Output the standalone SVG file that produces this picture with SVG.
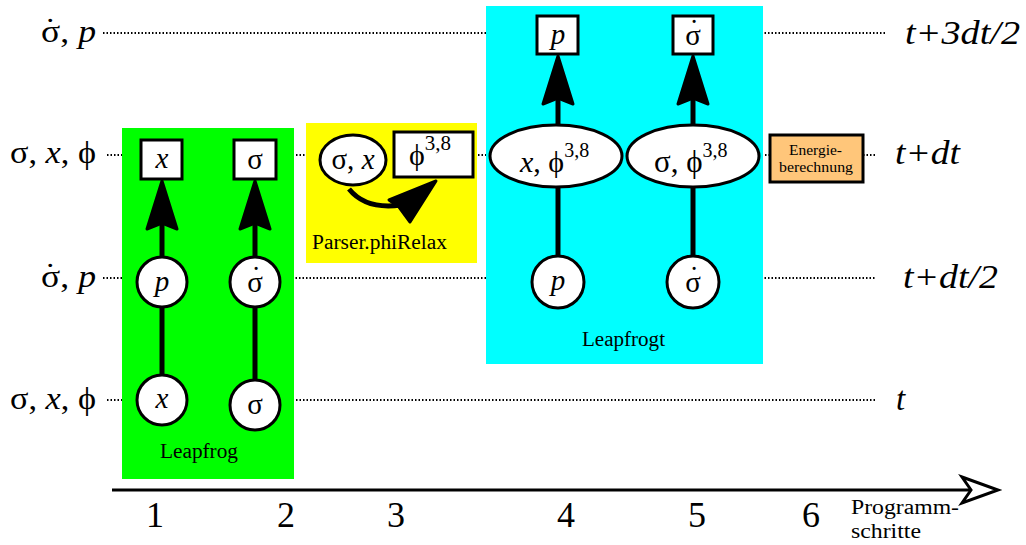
<svg xmlns="http://www.w3.org/2000/svg" xmlns:xlink="http://www.w3.org/1999/xlink" width="1026" height="545" viewBox="0 0 1026 545" font-family="'Liberation Serif', 'Times New Roman', 'DejaVu Serif', serif">
<style>
text{font-family:'Liberation Serif','Times New Roman','DejaVu Serif',serif;fill:#000}
.it{font-style:italic}
.dot{stroke:#000;stroke-width:2;stroke-dasharray:1.5 2;fill:none}
.nd{fill:#fff;stroke:#000;stroke-width:3}
.cn{stroke:#000;stroke-width:5;fill:none}
.ah{fill:#000;stroke:#000;stroke-width:3;stroke-linejoin:round}
.lab{font-size:32px}
.rl{font-size:33px;font-style:italic}
.nt{font-size:29px;text-anchor:middle}
.sm{font-size:20px}
.num{font-size:36px;text-anchor:middle}
</style>
<defs>
<path id="ahv" class="ah" d="M0,0 L15,48 L0,42 L-15,48 Z"/>
</defs>
<rect width="1026" height="545" fill="#fff"/>
<g id="gridlines">
<line class="dot" x1="103" y1="33" x2="887" y2="33"/>
<line class="dot" x1="107" y1="155" x2="876" y2="155"/>
<line class="dot" x1="103" y1="278" x2="876" y2="278"/>
<line class="dot" x1="107" y1="400" x2="877" y2="400"/>
</g>
<g id="labels-left">
<text class="lab" x="41" y="42" textLength="55" lengthAdjust="spacingAndGlyphs">σ<tspan dx="-0.45em" dy="-2">˙</tspan><tspan dx="0.12em" dy="2">, </tspan><tspan class="it">p</tspan></text>
<text class="lab" x="96" y="163" text-anchor="end" textLength="86" lengthAdjust="spacingAndGlyphs">σ, <tspan class="it">x</tspan>, ϕ</text>
<text class="lab" x="41" y="287" textLength="55" lengthAdjust="spacingAndGlyphs">σ<tspan dx="-0.45em" dy="-2">˙</tspan><tspan dx="0.12em" dy="2">, </tspan><tspan class="it">p</tspan></text>
<text class="lab" x="96" y="409" text-anchor="end" textLength="86" lengthAdjust="spacingAndGlyphs">σ, <tspan class="it">x</tspan>, ϕ</text>
</g>
<g id="labels-right">
<text class="rl" x="905" y="44" textLength="115" lengthAdjust="spacingAndGlyphs">t+3dt/2</text>
<text class="rl" x="895" y="164" textLength="65" lengthAdjust="spacingAndGlyphs">t+dt</text>
<text class="rl" x="903" y="288" textLength="95" lengthAdjust="spacingAndGlyphs">t+dt/2</text>
<text class="rl" x="896" y="410">t</text>
</g>
<g id="group-leapfrog">
<rect x="122" y="128" width="172" height="351" fill="#00ff00"/>
<text class="sm" x="160" y="458" textLength="78" lengthAdjust="spacingAndGlyphs">Leapfrog</text>
</g>
<g id="group-parser">
<rect x="306" y="123" width="171" height="140" fill="#ffff00"/>
<text class="sm" x="312" y="249" textLength="135" lengthAdjust="spacingAndGlyphs">Parser.phiRelax</text>
</g>
<g id="group-leapfrogt">
<rect x="486" y="6" width="277" height="358" fill="#00ffff"/>
<text class="sm" x="582" y="346" textLength="83" lengthAdjust="spacingAndGlyphs">Leapfrogt</text>
</g>
<g id="connectors">
<line class="cn" x1="162" y1="257" x2="162" y2="220"/>
<use xlink:href="#ahv" href="#ahv" x="162" y="181"/>
<line class="cn" x1="162" y1="307" x2="162" y2="375"/>
<line class="cn" x1="255" y1="257" x2="255" y2="220"/>
<use xlink:href="#ahv" href="#ahv" x="255" y="181"/>
<line class="cn" x1="255" y1="307" x2="255" y2="380"/>
<path class="cn" d="M349,189 Q366,210 401,205"/>
<path class="ah" d="M436,181 L389,200 L399,207 L410,222 Z"/>
<line class="cn" x1="558" y1="125" x2="558" y2="96"/>
<use xlink:href="#ahv" href="#ahv" x="558" y="56"/>
<line class="cn" x1="558" y1="187" x2="558" y2="256"/>
<line class="cn" x1="693" y1="125" x2="693" y2="96"/>
<use xlink:href="#ahv" href="#ahv" x="693" y="56"/>
<line class="cn" x1="693" y1="187" x2="693" y2="256"/>
</g>
<g id="n1-x-box"><rect class="nd" x="141" y="140" width="41" height="39"/><text class="nt it" x="162" y="168">x</text></g>
<g id="n1-p"><circle class="nd" cx="162" cy="282" r="25"/><text class="nt it" x="162" y="291">p</text></g>
<g id="n1-x"><circle class="nd" cx="162" cy="400" r="25"/><text class="nt it" x="162" y="408">x</text></g>
<g id="n2-sigma-box"><rect class="nd" x="234" y="140" width="42" height="39"/><text class="nt" x="255" y="169">σ</text></g>
<g id="n2-sigmadot"><circle class="nd" cx="255" cy="282" r="25"/><text class="nt" x="255" y="292">σ</text><text class="nt" x="256" y="287">˙</text></g>
<g id="n2-sigma"><circle class="nd" cx="255" cy="405" r="25"/><text class="nt" x="255" y="414">σ</text></g>
<g id="n3-sigmax"><ellipse class="nd" cx="353" cy="160" rx="33" ry="25"/><text class="nt" x="353" y="169" font-size="29">σ, <tspan class="it">x</tspan></text></g>
<g id="n3-phi"><rect class="nd" x="394" y="132" width="79" height="45"/><text x="409" y="165" font-size="30">ϕ<tspan font-size="21" dy="-15">3,8</tspan></text></g>
<g id="n4-p-box"><rect class="nd" x="537" y="16" width="41" height="38"/><text class="nt it" x="558" y="44">p</text></g>
<g id="n4-xphi"><ellipse class="nd" cx="556" cy="156" rx="66" ry="31"/><text x="520" y="172" font-size="30"><tspan class="it">x</tspan>, ϕ<tspan font-size="20" dy="-15">3,8</tspan></text></g>
<g id="n4-p"><circle class="nd" cx="558" cy="282" r="26"/><text class="nt it" x="558" y="290">p</text></g>
<g id="n5-sigmadot-box"><rect class="nd" x="673" y="16" width="40" height="38"/><text class="nt" x="693" y="45">σ</text><text class="nt" x="694" y="40">˙</text></g>
<g id="n5-sigmaphi"><ellipse class="nd" cx="693" cy="156" rx="66" ry="31"/><text x="654" y="172" font-size="31">σ, ϕ<tspan font-size="20" dy="-15">3,8</tspan></text></g>
<g id="n5-sigmadot"><circle class="nd" cx="693" cy="282" r="26"/><text class="nt" x="693" y="292">σ</text><text class="nt" x="694" y="287">˙</text></g>
<g id="n6-energie"><rect x="770" y="135" width="93" height="47" fill="#ffc67a" stroke="#000" stroke-width="3"/><text x="789" y="155" font-size="15" textLength="53" lengthAdjust="spacingAndGlyphs">Energie-</text><text x="779" y="172" font-size="15" textLength="74" lengthAdjust="spacingAndGlyphs">berechnung</text></g>
<g id="axis">
<line x1="112" y1="490" x2="992" y2="490" stroke="#000" stroke-width="3"/>
<path d="M962,477 L998,490 L962,503 L971,490 Z" fill="#fff" stroke="#000" stroke-width="3" stroke-linejoin="miter"/>
<text class="num" x="155" y="527">1</text>
<text class="num" x="286" y="527">2</text>
<text class="num" x="396" y="527">3</text>
<text class="num" x="566" y="527">4</text>
<text class="num" x="697" y="527">5</text>
<text class="num" x="811" y="527">6</text>
<text x="851" y="514" font-size="20" textLength="108" lengthAdjust="spacingAndGlyphs">Programm-</text>
<text x="851" y="538" font-size="20" textLength="70" lengthAdjust="spacingAndGlyphs">schritte</text>
</g>
</svg>
